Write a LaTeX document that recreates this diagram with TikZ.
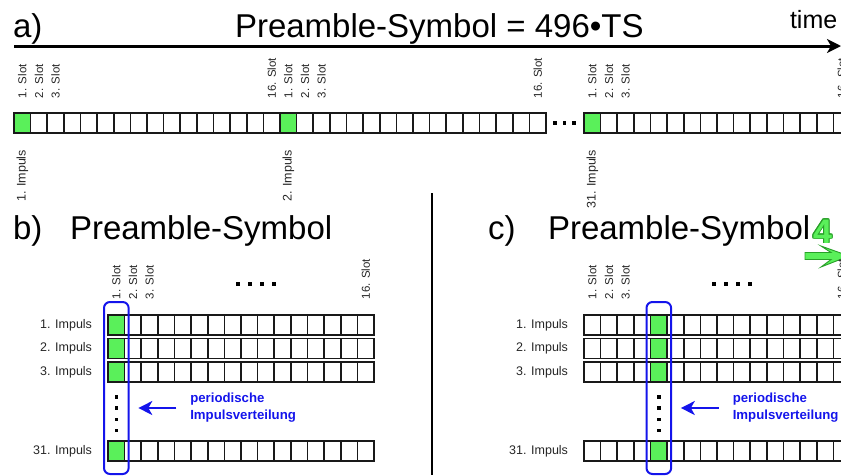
\documentclass[tikz,border=0pt]{standalone}
\usepackage{fontspec}
\setmainfont{Liberation Sans}
\usepackage{tikz}
\usetikzlibrary{arrows.meta,positioning}
\usepackage{contour}
\contourlength{0.9pt}

\definecolor{slotgreen}{RGB}{90,240,90}
\definecolor{darkgreen}{RGB}{40,160,40}
\definecolor{pulseblue}{RGB}{20,20,235}

\begin{document}
\begin{tikzpicture}[x=1pt,y=-1pt,>={Stealth[length=14pt,width=14pt,inset=4pt]},
  every node/.style={inner sep=0pt,outer sep=0pt},
  cell/.style={draw=black!90,line width=1.6pt,minimum width=16.625pt,minimum height=20pt,fill=white},
  pulse/.style={cell,fill=slotgreen},
  slotlabel/.style={rotate=90,anchor=west,font=\fontsize{11.5}{12}\selectfont,text=black!85},
  impulslabel/.style={font=\fontsize{12.5}{13}\selectfont,text=black!85},
  heading/.style={anchor=base west,font=\fontsize{33}{36}\selectfont},
  bluebox/.style={draw=pulseblue,line width=2pt,rounded corners=6pt},
  bluetext/.style={anchor=west,align=left,text=pulseblue,font=\bfseries\fontsize{13.2}{17}\selectfont}]
\useasboundingbox (0,0) rectangle (841,475);
\clip (0,0) rectangle (841,475);

% a) time line
\node[heading] (alabel) at (13,37) {a)};
\node[heading] (atitle) at (235,37) {Preamble-Symbol = 496•TS};
\node[anchor=base west,font=\fontsize{25}{28}\selectfont] (time) at (790,28) {time};
\coordinate (t0) at (14,46);
\coordinate (t1) at (841,46);
\draw[->,line width=3pt] (t0) -- (t1);

\foreach \b/\x/\n in {1/14/1,2/280/2,3/584/31} {
  \foreach \i in {2,...,16}
    \node[cell] (a\b-\i) at (\x+\i*16.625-8.3125,123) {};
  \node[pulse] (a\b-1) at (\x+8.3125,123) {};
  \foreach \i in {1,2,3}
    \node[slotlabel] (as\b-\i) at ([yshift=15pt]a\b-\i.north) {\i. Slot};
  \node[slotlabel] (as\b-16) at ([yshift=15pt]a\b-16.north) {16. Slot};
  \node[impulslabel,rotate=90,anchor=east] (ai\b) at ([yshift=-17pt]a\b-1.south) {\n. Impuls};
}
\foreach \x in {555,564.5,574} \fill (\x-1.7,121.3) rectangle (\x+1.7,124.7);

% separator
\draw[line width=2.5pt] (432,193) -- (432,475);

% b) and c) preamble symbol
\node[heading] (blabel) at (13,239) {b)};
\node[heading] (btitle) at (70,239) {Preamble-Symbol};
\node[heading] (clabel) at (488,239) {c)};
\node[heading] (ctitle) at (548,239) {Preamble-Symbol};
\node[anchor=base west,font=\bfseries\fontsize{34}{36}\selectfont,text=slotgreen] (four) at (813,243) {\contour{darkgreen}{\textcolor{slotgreen}{4}}};
\draw[darkgreen,fill=slotgreen,line width=0.9pt] (805,252.5) -- (831,252.5) -- (821,246) -- (849,256) -- (821,267) -- (831,259.5) -- (805,259.5) -- cycle;

\foreach \g/\x/\k in {b/108/1,c/584/5} {
  \foreach \r/\y/\n in {1/325/1,2/348.5/2,3/372/3,4/451/31} {
    \foreach \i in {1,...,16}
      \node[cell] (\g\r-\i) at (\x+\i*16.625-8.3125,\y) {};
    \node[pulse] (\g\r-p) at (\g\r-\k) {};
    \node[impulslabel,anchor=east] (\g i\r) at ([xshift=-16pt]\g\r-1.west) {\n. Impuls};
  }
  \foreach \i in {1,2,3}
    \node[slotlabel] (\g s\i) at ([yshift=16pt]\g1-\i.north) {\i. Slot};
  \node[slotlabel] (\g s16) at ([yshift=16pt]\g1-16.north) {16. Slot};
  \foreach \d in {0,1,2,3} {
    \fill ([xshift=130+\d*12-1.8]\g1-1.west |- 0,282.2) rectangle ++(3.6,3.6);
    \fill ([xshift=-1.8]\g1-\k.center |- 0,395.2+\d*11.2) rectangle ++(3.6,3.6);
  }
  \draw[bluebox] ([xshift=-4pt]\g1-\k.west |- 0,302) rectangle ([xshift=4pt]\g1-\k.east |- 0,474);
  \coordinate (\g a0) at ([xshift=60pt]\g1-\k.center |- 0,408);
  \coordinate (\g a1) at ([xshift=22pt]\g1-\k.center |- 0,408);
  \draw[->,pulseblue,line width=2pt] (\g a0) -- (\g a1);
  \node[bluetext] (\g text) at ([xshift=74pt]\g1-\k.center |- 0,408) {periodische\\Impulsverteilung};
}
\end{tikzpicture}
\end{document}
